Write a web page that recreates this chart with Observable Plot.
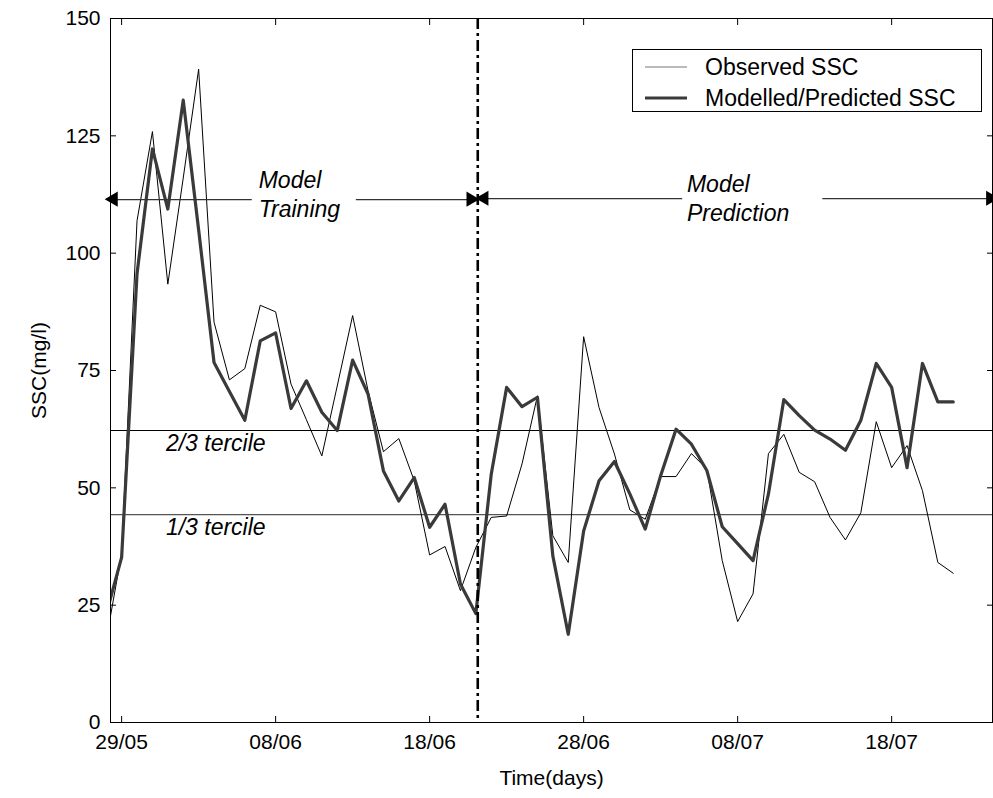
<!DOCTYPE html>
<html>
<head>
<meta charset="utf-8">
<script src="https://cdn.jsdelivr.net/npm/d3@7"></script>
<script src="https://cdn.jsdelivr.net/npm/@observablehq/plot@0.6"></script>
<style>
  html, body { margin: 0; padding: 0; background: #fff; }
  #wrap { position: relative; width: 993px; height: 798px; font-family: "Liberation Sans", Arial, Helvetica, sans-serif; }
  #legend { position: absolute; left: 632px; top: 49px; width: 350px; height: 63px; box-sizing: border-box;
            border: 1px solid #000; background: #fff; font-size: 23px; color: #000; }
  #legend .row { position: absolute; left: 0; height: 30px; display: flex; align-items: center; }
  #legend svg { margin-left: 12px; margin-right: 18px; }
</style>
</head>
<body>
<div id="wrap"></div>
<script>
// ---- data (daily samples, first sample 28/05) ----
const firstDay = "2000-05-28";
const observedSSC = [17.6, 36, 106.9, 125.9, 93.4, 116, 139.2, 85.3, 73.0, 75.4,
  88.9, 87.5, 72.1, 64.5, 56.8, 71.7, 86.7, 70.7, 57.7, 60.5,
  51.5, 35.7, 37.5, 28.1, 37.3, 43.7, 44.0, 55.1, 69.6, 39.8,
  34.1, 82.2, 67.1, 57.2, 45.3, 43.3, 52.4, 52.4, 57.3, 54.0,
  34.5, 21.5, 27.4, 57.3, 61.4, 53.3, 51.3, 43.7, 38.9, 44.7,
  64.1, 54.3, 59.0, 49.4, 34.1, 31.8];
const modelledSSC = [23.1, 35.2, 95.6, 122.2, 109.4, 132.6, 105, 76.7, 70.5, 64.4,
  81.3, 83.0, 66.9, 72.8, 66.1, 62.2, 77.2, 70.0, 53.6, 47.2,
  52.2, 41.6, 46.5, 29.5, 23.2, 52.9, 71.4, 67.3, 69.3, 35.5,
  18.8, 40.8, 51.5, 55.6, 48.7, 41.2, 52.6, 62.5, 59.3, 53.7,
  41.7, 38.1, 34.5, 48.7, 68.8, 65.4, 62.3, 60.4, 58.0, 64.4,
  76.5, 71.4, 54.3, 76.5, 68.3, 68.3];
const xTickDates = ["2000-05-29", "2000-06-08", "2000-06-18", "2000-06-28", "2000-07-08", "2000-07-18"];
const yTicks = [0, 25, 50, 75, 100, 125, 150];
const terciles = [{label: "2/3 tercile", value: 62.2}, {label: "1/3 tercile", value: 44.3}];
const xDomain = ["2000-05-28T06:40Z", "2000-07-24T13:10Z"];
const splitDate = "2000-06-21T03:00Z";
const tercileLabelDate = "2000-05-31T21:00Z";
const arrowLines = [
  {x1: "2000-05-28T12:00Z", x2: "2000-06-06T10:48Z", y: 111.4, head: "left"},
  {x1: "2000-06-13T05:00Z", x2: "2000-06-20T17:00Z", y: 111.4, head: "right"},
  {x1: "2000-06-21T13:40Z", x2: "2000-07-04T09:36Z", y: 111.6, head: "left"},
  {x1: "2000-07-13T12:00Z", x2: "2000-07-24T10:48Z", y: 111.6, head: "right"}
];
const phaseLabels = [
  {x: "2000-06-06T21:36Z", y: 112.7, text: "Model\nTraining"},
  {x: "2000-07-04T17:00Z", y: 112.0, text: "Model\nPrediction"}
];

// ---- build tables ----
const t0 = new Date(firstDay + "T00:00Z");
const obs = observedSSC.map((v, i) => ({date: d3.utcDay.offset(t0, i), value: v}));
const mod = modelledSSC.map((v, i) => ({date: d3.utcDay.offset(t0, i), value: v}));
const ticks = xTickDates.map(s => new Date(s + "T00:00Z"));
const arrows = arrowLines.map(d => ({...d, x1: new Date(d.x1), x2: new Date(d.x2)}));
const heads = arrows.map(d => d.head === "left"
  ? {x: d.x1, y: d.y, rot: -90, dx: 8}
  : {x: d.x2, y: d.y, rot: 90, dx: -8});
const labels = phaseLabels.map(d => ({...d, x: new Date(d.x)}));
const fmt = d3.utcFormat("%d/%m");

const chart = Plot.plot({
  width: 993,
  height: 798,
  marginLeft: 110,
  marginRight: 1,
  marginTop: 18,
  marginBottom: 76,
  style: {fontFamily: "'Liberation Sans', Arial, Helvetica, sans-serif", fontSize: "21px", color: "#000", background: "#fff", overflow: "visible"},
  x: {type: "utc", domain: xDomain.map(s => new Date(s))},
  y: {domain: [0, 150]},
  marks: [
    Plot.ruleY([terciles[0]], {y: "value", stroke: "#000", strokeWidth: 1.1}),
    Plot.ruleY([terciles[1]], {y: "value", stroke: "#555", strokeWidth: 1.3}),
    Plot.text(terciles, {x: () => new Date(tercileLabelDate), y: "value", text: "label", dy: 13,
      textAnchor: "start", fontStyle: "italic", fontSize: 23, fill: "#000"}),
    Plot.lineY(obs, {x: "date", y: "value", stroke: "#000", strokeWidth: 1, clip: true}),
    Plot.lineY(mod, {x: "date", y: "value", stroke: "#3a3a3a", strokeWidth: 3.2, clip: true}),
    Plot.ruleX([new Date(splitDate)], {stroke: "#000", strokeWidth: 2.6, strokeDasharray: "11,4,3,4"}),
    Plot.link(arrows, {x1: "x1", x2: "x2", y1: "y", y2: "y", stroke: "#333", strokeWidth: 1.2}),
    Plot.dot(heads, {x: "x", y: "y", dx: "dx", symbol: "triangle", rotate: "rot", r: 5.6, fill: "#000", stroke: "none"}),
    Plot.text(labels, {x: "x", y: "y", text: "text", textAnchor: "start", lineAnchor: "middle", lineHeight: 1.27,
      fontStyle: "italic", fontSize: 23, fill: "#000"}),
    Plot.frame({stroke: "#000", strokeWidth: 1}),
    Plot.axisX(ticks, {anchor: "bottom", tickSize: -6, tickFormat: () => "", label: null}),
    Plot.axisX(ticks, {anchor: "top", tickSize: -6, tickFormat: () => "", label: null}),
    Plot.axisY(yTicks, {anchor: "left", tickSize: -6, tickFormat: () => "", label: null}),
    Plot.axisY(yTicks, {anchor: "right", tickSize: -6, tickFormat: () => "", label: null}),
    Plot.axisX(ticks, {anchor: "bottom", tickSize: 0, tickPadding: 12, tickFormat: fmt,
      label: "Time(days)", labelArrow: "none", labelAnchor: "center", labelOffset: 62, fontSize: 21}),
    Plot.axisY(yTicks, {anchor: "left", tickSize: 0, tickPadding: 10, tickFormat: d => String(d),
      label: "SSC(mg/l)", labelArrow: "none", labelAnchor: "center", labelOffset: 79, fontSize: 21})
  ]
});

const wrap = document.getElementById("wrap");
wrap.appendChild(chart);

// legend (inside plot area, upper right)
const legend = document.createElement("div");
legend.id = "legend";
const legendItems = [
  {label: "Observed SSC", stroke: "#777", width: 1.2, top: 2},
  {label: "Modelled/Predicted SSC", stroke: "#3a3a3a", width: 3.2, top: 33}
];
for (const it of legendItems) {
  const row = document.createElement("div");
  row.className = "row";
  row.style.top = it.top + "px";
  row.innerHTML = `<svg width="42" height="10"><line x1="0" x2="42" y1="5" y2="5" stroke="${it.stroke}" stroke-width="${it.width}"/></svg><span>${it.label}</span>`;
  legend.appendChild(row);
}
wrap.appendChild(legend);
</script>
</body>
</html>
